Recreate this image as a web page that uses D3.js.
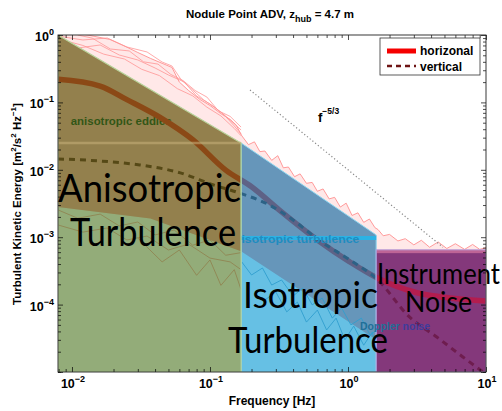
<!DOCTYPE html>
<html>
<head>
<meta charset="utf-8">
<script src="https://cdn.jsdelivr.net/npm/d3@7"></script>
<style>
  body { margin: 0; background: #fff; }
  svg { display: block; }
  .ax text { font-family: "Liberation Sans", Arial, sans-serif; font-weight: bold; }
</style>
</head>
<body>
<svg id="chart" width="502" height="411"></svg>
<script>
// ---- spectra (frequency in Hz, energy in m^2 s^-2 Hz^-1) ----
const hMeanFreq = [0.00792, 0.016, 0.025, 0.044, 0.075, 0.13, 0.2, 0.32, 0.6, 1.03, 1.62, 3.16, 5.5, 10];
const hMean     = [0.22, 0.175, 0.11, 0.059, 0.028, 0.0099, 0.0056, 0.0025, 0.00091, 0.00043, 0.00025, 0.00015, 0.000125, 0.000113];

const vMeanFreq = [0.00792, 0.016, 0.031, 0.061, 0.105, 0.165, 0.27, 0.4, 0.6, 1.03, 1.62, 2.8, 4.4, 6.8, 10];
const vMean     = [0.0145, 0.0135, 0.0118, 0.009, 0.006, 0.0045, 0.003, 0.0018, 0.00094, 0.00046, 0.00024, 0.000065, 0.000033, 0.0000167, 0.0000093];

// upper edge of the individual horizontal spectra
const hUpperFreq = [0.00792, 0.01, 0.013, 0.0188, 0.025, 0.03, 0.037, 0.045, 0.053, 0.06, 0.07, 0.085, 0.1, 0.12, 0.14, 0.155,
  0.17, 0.19, 0.21, 0.23, 0.25, 0.28, 0.31, 0.34, 0.37, 0.41, 0.45, 0.5, 0.55, 0.6, 0.66, 0.73, 0.8, 0.88, 0.97, 1.07, 1.18, 1.3, 1.43, 1.57,
  1.65, 1.8, 2.0, 2.3, 2.6, 3.0, 3.4, 3.9, 4.5, 5.2, 6.0, 7.0, 8.0, 9.0, 10];
const hUpper = [1.2, 1.1, 1.0, 0.86, 0.66, 0.55, 0.45, 0.38, 0.33, 0.2, 0.15, 0.11, 0.09, 0.068, 0.056, 0.046,
  0.032, 0.0236, 0.026, 0.0186, 0.019, 0.0138, 0.0162, 0.0107, 0.011, 0.0079, 0.0087, 0.0063, 0.0065, 0.0048, 0.0052, 0.0037, 0.0039, 0.0028, 0.0032, 0.0021, 0.0023, 0.00166, 0.00186, 0.00138,
  0.0013, 0.00105, 0.0011, 0.00088, 0.00095, 0.00077, 0.0009, 0.00071, 0.00085, 0.00068, 0.0008, 0.00066, 0.00078, 0.00066, 0.0007];

// lower edge of the dense horizontal spectra
const hLowerFreq = [0.00792, 0.037, 0.168, 0.45, 1.6, 10];
const hLower     = [0.0028, 0.0019, 0.00062, 0.000165, 0.00003, 0.00001];

// a few individual horizontal spectra
const hiAFreq = [0.00792, 0.012, 0.018, 0.025, 0.035, 0.045, 0.053, 0.062, 0.075, 0.09, 0.11, 0.14, 0.168];
const hiA     = [0.966, 0.843, 0.903, 0.664, 0.56, 0.397, 0.347, 0.215, 0.153, 0.109, 0.0826, 0.0548, 0.039];
const hiBFreq = [0.00792, 0.011, 0.016, 0.022, 0.03, 0.04, 0.05, 0.065, 0.08, 0.1, 0.125, 0.15, 0.168];
const hiB     = [0.843, 0.641, 0.711, 0.505, 0.426, 0.324, 0.255, 0.201, 0.1245, 0.0947, 0.0673, 0.0447, 0.034];
const hiCFreq = [0.011, 0.014, 0.019, 0.026, 0.033, 0.042, 0.052, 0.064, 0.078, 0.095, 0.115, 0.14, 0.168];
const hiC     = [1.0, 0.9, 0.62, 0.58, 0.4, 0.37, 0.26, 0.21, 0.15, 0.12, 0.075, 0.062, 0.043];
const hiDFreq = [0.00792, 0.012, 0.017, 0.024, 0.032, 0.043, 0.058, 0.075, 0.095, 0.12, 0.15, 0.168];
const hiD     = [0.88, 0.7, 0.52, 0.44, 0.31, 0.25, 0.16, 0.125, 0.085, 0.063, 0.041, 0.032];
const tailAFreq = [0.00792, 0.012, 0.018, 0.025, 0.035, 0.05, 0.07, 0.1, 0.14, 0.168];
const tailA     = [0.00152, 0.00119, 0.00137, 0.00091, 0.00104, 0.000646, 0.00079, 0.00049, 0.00043, 0.00033];
const tailBFreq = [0.03, 0.045, 0.06, 0.08, 0.1, 0.12, 0.15, 0.168];
const tailB     = [0.00097, 0.00043, 0.000646, 0.000272, 0.00046, 0.000193, 0.00033, 0.000166];
const tailCFreq = [0.00792, 0.011, 0.016, 0.022, 0.03, 0.04, 0.055, 0.075, 0.1, 0.13, 0.168];
const tailC     = [0.00254, 0.00191, 0.0022, 0.00147, 0.00168, 0.00108, 0.00128, 0.00076, 0.00091, 0.00054, 0.00059];

// a few individual vertical spectra in the inertial range
const vLoAFreq = [0.17, 0.2, 0.24, 0.28, 0.33, 0.4, 0.47, 0.55, 0.65, 0.77, 0.9, 1.05, 1.25, 1.45, 1.6];
const vLoA     = [0.000429, 0.000275, 0.000349, 0.000195, 0.000232, 0.000134, 0.000176, 0.000099, 0.000125, 0.000063, 0.000089, 0.00005, 0.000063, 0.000035, 0.000042];
const vLoBFreq = [0.25, 0.3, 0.36, 0.43, 0.5, 0.6, 0.7, 0.82, 0.95, 1.1, 1.3, 1.5, 1.6];
const vLoB     = [0.000117, 0.000154, 0.000078, 0.000109, 0.000055, 0.000083, 0.000042, 0.000063, 0.00003, 0.000048, 0.000025, 0.000039, 0.000021];

// ---- spectral ranges ----
const rangeFreq   = [0.00792, 0.168, 1.6, 10];   // range boundaries
const rangeEdge   = [1.0, 0.025, 0.00108];        // shading edge level at each boundary
const eddyLevel   = 0.025;                         // anisotropic eddies
const isoLevel    = 0.00097;                       // isotropic turbulence
const noiseLevel  = 0.00065;                       // instrument noise floor
const dopplerTop  = 0.00058;

// -5/3 reference slope (end points)
const refFreq = [0.195, 4.88];
const refE    = [0.153, 0.00071];

const xMajor = [0.01, 0.1, 1, 10];
const xExp   = ["\u22122", "\u22121", "0", "1"];
const yMajor = [1, 0.1, 0.01, 0.001, 0.0001];
const yExp   = ["0", "\u22121", "\u22122", "\u22123", "\u22124"];

// ---- layout ----
const L = 58, R = 486, T = 35, B = 372;
const svg = d3.select("#chart");
const x = d3.scaleLog().domain([0.00792, 10]).range([L, R]);
const y = d3.scaleLog().domain([1e-5, 1]).range([B, T]);

const pts = (fs, es) => fs.map((f, i) => [x(f), y(es[i])]);
const line = d3.line();
const smooth = d3.line().curve(d3.curveMonotoneX);
const band = (upper, lower) => line(upper.concat(lower.slice().reverse())) + "Z";

svg.append("defs").append("clipPath").attr("id", "plot")
  .append("rect").attr("x", L).attr("y", T).attr("width", R - L).attr("height", B - T);

const g = svg.append("g").attr("clip-path", "url(#plot)");

// individual horizontal spectra: thin fringe above the dense band
const upperPts = pts(hUpperFreq, hUpper);
const lowerPts = pts(hLowerFreq, hLower);
g.append("path").attr("d", band(upperPts, lowerPts)).attr("fill", "#ffa0a0").attr("opacity", 0.24);
g.append("path").attr("d", line(upperPts)).attr("fill", "none").attr("stroke", "#ff9090").attr("stroke-width", 0.9);
[[hiAFreq, hiA], [hiBFreq, hiB], [hiCFreq, hiC], [hiDFreq, hiD]].forEach(([f, e]) =>
  g.append("path").attr("d", line(pts(f, e))).attr("fill", "none").attr("stroke", "#ff9494").attr("stroke-width", 0.8));

// dense part of the horizontal spectra
const edgePts = pts([rangeFreq[0], rangeFreq[1], rangeFreq[2], rangeFreq[2], rangeFreq[3]],
                    [rangeEdge[0], rangeEdge[1], rangeEdge[2], noiseLevel, noiseLevel]);
g.append("path").attr("d", band(edgePts, lowerPts)).attr("fill", "rgb(255,150,150)");
[[tailAFreq, tailA], [tailBFreq, tailB], [tailCFreq, tailC]].forEach(([f, e]) =>
  g.append("path").attr("d", line(pts(f, e))).attr("fill", "none").attr("stroke", "rgb(245,150,150)").attr("stroke-width", 0.8));
[[vLoAFreq, vLoA], [vLoBFreq, vLoB]].forEach(([f, e]) =>
  g.append("path").attr("d", line(pts(f, e))).attr("fill", "none").attr("stroke", "rgb(120,170,200)").attr("stroke-width", 0.9));

// Doppler noise shading
g.append("rect").attr("x", x(rangeFreq[2])).attr("y", y(dopplerTop))
  .attr("width", x(rangeFreq[3]) - x(rangeFreq[2])).attr("height", y(1e-5) - y(dopplerTop))
  .attr("fill", "rgb(150,70,100)");

// small range label
g.append("text").attr("x", x(0.0098)).attr("y", y(0.046)).text("anisotropic eddies")
  .attr("font-family", "Liberation Sans, Arial, sans-serif").attr("font-weight", "bold").attr("font-size", 10.5)
  .attr("textLength", 101).attr("lengthAdjust", "spacingAndGlyphs").attr("fill", "#143214");

// mean spectra
g.append("path").attr("d", smooth(pts(hMeanFreq, hMean))).attr("fill", "none")
  .attr("stroke", "rgb(235,20,20)").attr("stroke-width", 5.5);
g.append("path").attr("d", smooth(pts(vMeanFreq, vMean))).attr("fill", "none")
  .attr("stroke", "rgb(110,20,20)").attr("stroke-width", 3).attr("stroke-dasharray", "6,5");

// isotropic range
g.append("path").attr("d", line(pts([rangeFreq[1], rangeFreq[2], rangeFreq[2], rangeFreq[1]],
                                    [rangeEdge[1], rangeEdge[2], 1e-5, 1e-5])) + "Z")
  .attr("fill", "rgb(0,150,210)").attr("fill-opacity", 0.6).attr("stroke", "#8ad8f2").attr("stroke-width", 1);
g.append("line").attr("x1", x(rangeFreq[1])).attr("x2", x(rangeFreq[2]))
  .attr("y1", y(isoLevel)).attr("y2", y(isoLevel)).attr("stroke", "#2cb2e4").attr("stroke-width", 4);
g.append("text").attr("x", x(0.169)).attr("y", y(0.00083)).text("isotropic turbulence")
  .attr("font-family", "Liberation Sans, Arial, sans-serif").attr("font-weight", "bold").attr("font-size", 10.5)
  .attr("textLength", 118).attr("lengthAdjust", "spacingAndGlyphs").attr("fill", "#1e8cc0");

// instrument noise range
g.append("rect").attr("x", x(rangeFreq[2])).attr("y", y(noiseLevel))
  .attr("width", x(rangeFreq[3]) - x(rangeFreq[2])).attr("height", y(1e-5) - y(noiseLevel))
  .attr("fill", "rgb(110,40,150)").attr("fill-opacity", 0.45).attr("stroke", "#b9a0dc").attr("stroke-width", 1);

// range names
const big = (sel, tx, ty, str, size, len) => sel.append("text").attr("x", tx).attr("y", ty).text(str)
  .attr("font-family", "Lato, 'Open Sans', sans-serif").attr("font-size", size)
  .attr("textLength", len).attr("lengthAdjust", "spacingAndGlyphs").attr("fill", "#000");
big(svg, 243, 308, "Isotropic", 36, 135);
big(svg, 228, 353, "Turbulence", 36, 160);

// anisotropic range (drawn over the isotropic label)
g.append("path").attr("d", line(pts([rangeFreq[0], rangeFreq[1], rangeFreq[1], rangeFreq[0]],
                                    [rangeEdge[0], rangeEdge[1], 1e-5, 1e-5])) + "Z")
  .attr("fill", "rgb(69,112,24)").attr("fill-opacity", 0.58).attr("stroke", "#b8d49c").attr("stroke-width", 1.2);
g.append("line").attr("x1", x(rangeFreq[0])).attr("x2", x(rangeFreq[1]))
  .attr("y1", y(eddyLevel)).attr("y2", y(eddyLevel)).attr("stroke", "#c9b27c").attr("stroke-width", 2.5).attr("opacity", 0.55);

big(svg, 58, 202, "Anisotropic", 39, 183);
big(svg, 70, 246, "Turbulence", 39, 166);
big(svg, 377, 284, "Instrument", 29, 123);
big(svg, 405, 312, "Noise", 29, 67);

const dop = svg.append("text").attr("x", 360).attr("y", 330)
  .attr("font-family", "Liberation Sans, Arial, sans-serif").attr("font-weight", "bold").attr("font-size", 10.5);
dop.append("tspan").attr("fill", "#1f6f98").text("Doppler");
dop.append("tspan").attr("fill", "#3e3c9c").text(" noise");

// -5/3 reference
svg.append("path").attr("d", line(pts(refFreq, refE))).attr("fill", "none")
  .attr("stroke", "#888").attr("stroke-width", 1.2).attr("stroke-dasharray", "1.2,2.3");
const fl = svg.append("text").attr("x", 318).attr("y", 122)
  .attr("font-family", "Liberation Sans, Arial, sans-serif").attr("font-weight", "bold").attr("font-size", 13);
fl.append("tspan").text("f");
fl.append("tspan").attr("dy", -8).attr("font-size", 8.5).text("\u22125/3");

// ---- axes ----
const ax = svg.append("g").attr("class", "ax");
const minorX = x.ticks().filter(v => !xMajor.some(m => Math.abs(m - v) < 1e-9));
const minorY = y.ticks().filter(v => !yMajor.some(m => Math.abs(m - v) / m < 1e-6) && v < 1);
const axis = (gen, scale, major, minor, tx, ty) => {
  const a = ax.append("g").attr("transform", `translate(${tx},${ty})`);
  a.call(gen(scale).tickValues(major).tickSize(-5).tickFormat(""));
  const m = ax.append("g").attr("transform", `translate(${tx},${ty})`);
  m.call(gen(scale).tickValues(minor).tickSize(-3).tickFormat(""));
  [a, m].forEach(s => { s.select(".domain").remove(); s.selectAll("line").attr("stroke", "#000").attr("stroke-width", 0.7); });
};
axis(d3.axisBottom, x, xMajor, minorX, 0, B);
axis(d3.axisTop, x, xMajor, minorX, 0, T);
axis(d3.axisLeft, y, yMajor.concat([1e-5]), minorY, L, 0);
axis(d3.axisRight, y, yMajor.concat([1e-5]), minorY, R, 0);
ax.append("rect").attr("x", L).attr("y", T).attr("width", R - L).attr("height", B - T)
  .attr("fill", "none").attr("stroke", "#222").attr("stroke-width", 0.9);

xMajor.forEach((v, i) => {
  const t = ax.append("text").attr("x", x(v) + 1).attr("y", 388).attr("text-anchor", "middle").attr("font-size", 12.5);
  t.append("tspan").text("10");
  t.append("tspan").attr("dy", -6).attr("font-size", 9).text(xExp[i]);
});
yMajor.forEach((v, i) => {
  const t = ax.append("text").attr("x", 54).attr("y", y(v) + 6).attr("text-anchor", "end").attr("font-size", 12.5);
  t.append("tspan").text("10");
  t.append("tspan").attr("dy", -6).attr("font-size", 9).text(yExp[i]);
});

// axis titles
ax.append("text").attr("x", 272).attr("y", 405).attr("text-anchor", "middle").attr("font-size", 12).text("Frequency [Hz]");
const yl = ax.append("text").attr("transform", "translate(21,204) rotate(-90)").attr("text-anchor", "middle").attr("font-size", 11.5);
yl.append("tspan").text("Turbulent Kinetic Energy [m");
yl.append("tspan").attr("dy", -5).attr("font-size", 8).text("2");
yl.append("tspan").attr("dy", 5).text("/s");
yl.append("tspan").attr("dy", -5).attr("font-size", 8).text("2");
yl.append("tspan").attr("dy", 5).text(" Hz");
yl.append("tspan").attr("dy", -5).attr("font-size", 8).text("\u22121");
yl.append("tspan").attr("dy", 5).text("]");

const tt = ax.append("text").attr("x", 270).attr("y", 18).attr("text-anchor", "middle").attr("font-size", 11.5);
tt.append("tspan").text("Nodule Point ADV, z");
tt.append("tspan").attr("dy", 4).attr("font-size", 9).text("hub");
tt.append("tspan").attr("dy", -4).text(" = 4.7 m");

// ---- legend ----
const lg = svg.append("g").attr("class", "ax");
lg.append("rect").attr("x", 380).attr("y", 38).attr("width", 100).attr("height", 37)
  .attr("fill", "#fff").attr("stroke", "#333").attr("stroke-width", 0.8);
lg.append("line").attr("x1", 387).attr("x2", 416).attr("y1", 51).attr("y2", 51)
  .attr("stroke", "rgb(245,0,0)").attr("stroke-width", 5);
lg.append("line").attr("x1", 387).attr("x2", 416).attr("y1", 66).attr("y2", 66)
  .attr("stroke", "rgb(110,20,20)").attr("stroke-width", 2.5).attr("stroke-dasharray", "5,4");
lg.append("text").attr("x", 420).attr("y", 55).attr("font-size", 12).text("horizonal");
lg.append("text").attr("x", 420).attr("y", 71).attr("font-size", 12).text("vertical");
</script>
</body>
</html>
